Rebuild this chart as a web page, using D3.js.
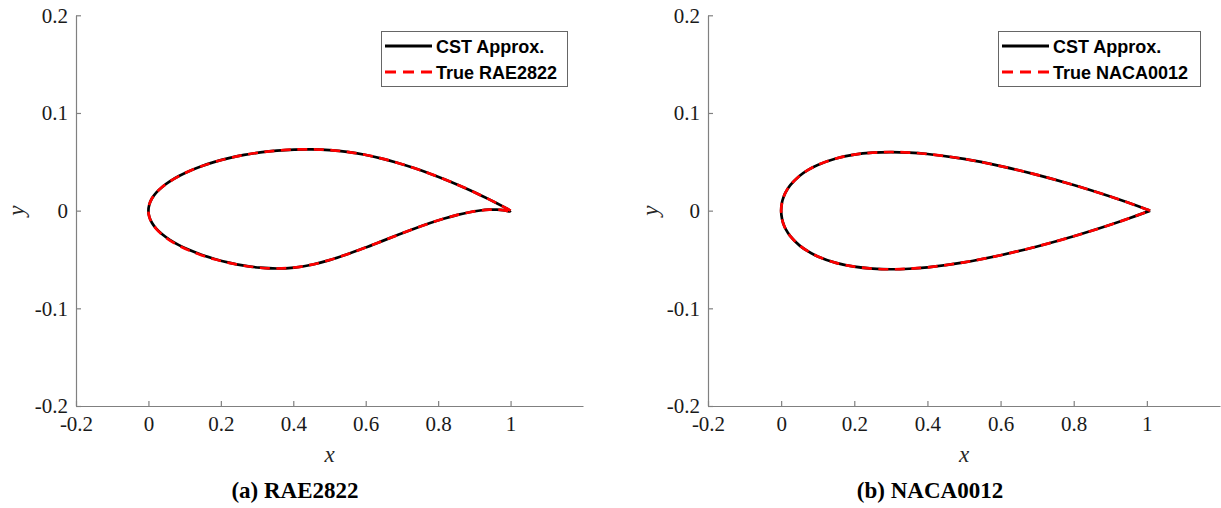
<!DOCTYPE html>
<html>
<head>
<meta charset="utf-8">
<script src="https://cdn.jsdelivr.net/npm/d3@7"></script>
<style>
  html, body { margin: 0; padding: 0; background: #fff; }
  svg { display: block; }
  .tick text { font-family: "Liberation Serif", "Times New Roman", serif; }
</style>
</head>
<body>
<svg id="chart" width="1221" height="508"></svg>
<script>
// airfoil coordinates, chord-normalised
const raeX = [0, 0.002408, 0.009607, 0.021530, 0.038060, 0.059039, 0.084265, 0.113495, 0.146447, 0.182803,
  0.222215, 0.264302, 0.308658, 0.354858, 0.402455, 0.450991, 0.5, 0.549009, 0.597545, 0.645142,
  0.691342, 0.735698, 0.777785, 0.817197, 0.853553, 0.886505, 0.915735, 0.940961, 0.961940, 0.978470,
  0.990393, 0.997592, 1.0];
const raeUpperTrue = [0, 0.006306, 0.012480, 0.018441, 0.024219, 0.029874, 0.035360, 0.040585, 0.045457, 0.049874,
  0.053753, 0.057025, 0.059629, 0.061497, 0.062562, 0.062774, 0.062029, 0.060194, 0.057218, 0.053258,
  0.048575, 0.043377, 0.037847, 0.032176, 0.026554, 0.021153, 0.016113, 0.011562, 0.007622, 0.004401,
  0.002001, 0.000510, 0];
const raeLowerTrue = [0, -0.006308, -0.012559, -0.018707, -0.024685, -0.030416, -0.035843, -0.040929, -0.045610, -0.049805,
  -0.053427, -0.056376, -0.058459, -0.059236, -0.058224, -0.055257, -0.050563, -0.044642, -0.038043, -0.031207,
  -0.024495, -0.018232, -0.012690, -0.008027, -0.004314, -0.001592, 0.000149, 0.000970, 0.001035, 0.000554,
  -0.000187, -0.000792, 0];
const raeUpperCst = [0, 0.006250, 0.012430, 0.018420, 0.024230, 0.029910, 0.035410, 0.040640, 0.045500, 0.049900,
  0.053770, 0.057030, 0.059620, 0.061480, 0.062550, 0.062770, 0.062040, 0.060220, 0.057250, 0.053280,
  0.048590, 0.043380, 0.037830, 0.032150, 0.026520, 0.021120, 0.016090, 0.011550, 0.007620, 0.004410,
  0.002020, 0.000530, 0];
const raeLowerCst = [0, -0.006250, -0.012400, -0.018400, -0.024250, -0.029900, -0.035300, -0.040400, -0.045150, -0.049450,
  -0.053200, -0.056250, -0.058400, -0.059250, -0.058300, -0.055350, -0.050650, -0.044700, -0.038070, -0.031200,
  -0.024470, -0.018200, -0.012670, -0.008020, -0.004320, -0.001610, 0.000130, 0.000960, 0.001030, 0.000560,
  -0.000170, -0.000770, 0];

const nacaX = [0, 0.0025, 0.005, 0.0075, 0.0125, 0.025, 0.05, 0.075, 0.1, 0.15, 0.2, 0.25, 0.3, 0.35,
  0.4, 0.5, 0.6, 0.7, 0.8, 0.9, 0.95, 1.0, 1.00893];
const nacaUpperTrue = [0, 0.00872, 0.01221, 0.01485, 0.01894, 0.02615, 0.03555, 0.04200, 0.04683, 0.05345, 0.05737, 0.05941, 0.06002, 0.05949,
  0.05803, 0.05294, 0.04563, 0.03664, 0.02623, 0.01448, 0.00807, 0.00126, 0];
const nacaUpperCst = [0, 0.00860, 0.01212, 0.01478, 0.01890, 0.02614, 0.03556, 0.04201, 0.04684, 0.05345, 0.05737, 0.05940, 0.06001, 0.05948,
  0.05802, 0.05294, 0.04564, 0.03665, 0.02624, 0.01449, 0.00808, 0.00127, 0];

const xTicks = [-0.2, 0, 0.2, 0.4, 0.6, 0.8, 1];
const yTicks = [-0.2, -0.1, 0, 0.1, 0.2];
const legendLabels = [["CST Approx.", "True RAE2822"], ["CST Approx.", "True NACA0012"]];
const captions = ["(a) RAE2822", "(b) NACA0012"];

function loop(xs, up, lo) {
  // trailing edge -> leading edge along upper, then back along lower
  const pts = [];
  for (let i = xs.length - 1; i >= 0; i--) pts.push([xs[i], up[i]]);
  for (let i = 1; i < xs.length; i++) pts.push([xs[i], lo[i]]);
  return pts;
}

const panels = [
  {
    left: 76, right: 583, yLabelX: 18, capX: 295,
    cst: loop(raeX, raeUpperCst, raeLowerCst),
    truth: loop(raeX, raeUpperTrue, raeLowerTrue),
    legend: legendLabels[0], legendBox: [381, 567], caption: captions[0]
  },
  {
    left: 708, right: 1220, yLabelX: 652, capX: 930,
    cst: loop(nacaX, nacaUpperCst, nacaUpperCst.map(v => -v)),
    truth: loop(nacaX, nacaUpperTrue, nacaUpperTrue.map(v => -v)),
    legend: legendLabels[1], legendBox: [998, 1200], caption: captions[1]
  }
];

const svg = d3.select("#chart");
const plotTop = 15.3, plotBottom = 406;
const axisColor = "#808080", textColor = "#262626";
const serif = "'Liberation Serif', 'Times New Roman', serif";

panels.forEach(p => {
  const x = d3.scaleLinear().domain([-0.2, 1.2]).range([p.left, p.right]);
  const y = d3.scaleLinear().domain([-0.2, 0.2]).range([plotBottom, plotTop]);
  const g = svg.append("g");

  const fmt = d => d === 0 ? "0" : String(d);

  const xa = g.append("g").attr("transform", `translate(0,${plotBottom})`)
    .call(d3.axisBottom(x).tickValues(xTicks).tickFormat(fmt).tickSizeInner(-5).tickSizeOuter(0).tickPadding(10));
  const ya = g.append("g").attr("transform", `translate(${p.left},0)`)
    .call(d3.axisLeft(y).tickValues(yTicks).tickFormat(fmt).tickSizeInner(-5).tickSizeOuter(0).tickPadding(8));
  [xa, ya].forEach(a => {
    a.attr("font-family", serif).attr("font-size", 21);
    a.selectAll("path, line").attr("stroke", axisColor).attr("stroke-width", 1.2);
    a.selectAll("text").attr("fill", "#1a1a1a");
  });

  const line = d3.line().x(d => x(d[0])).y(d => y(d[1])).curve(d3.curveCatmullRom.alpha(0.5));
  g.append("path").attr("d", line(p.cst)).attr("fill", "none")
    .attr("stroke", "#000").attr("stroke-width", 2.7).attr("stroke-linejoin", "round");
  g.append("path").attr("d", line(p.truth)).attr("fill", "none")
    .attr("stroke", "#ff0000").attr("stroke-width", 2.7).attr("stroke-dasharray", "10,6.5");

  // axis labels
  g.append("text").attr("x", (p.left + p.right) / 2).attr("y", 462)
    .attr("text-anchor", "middle").attr("fill", textColor)
    .style("font-family", serif).style("font-style", "italic").style("font-size", "23px").text("x");
  g.append("text").attr("transform", `translate(${p.yLabelX + 6},${(plotTop + plotBottom) / 2}) rotate(-90)`)
    .attr("text-anchor", "middle").attr("fill", textColor)
    .style("font-family", serif).style("font-style", "italic").style("font-size", "23px").text("y");

  // legend
  const [lx0, lx1] = p.legendBox;
  const lg = g.append("g");
  lg.append("rect").attr("x", lx0 + 0.5).attr("y", 31.5).attr("width", lx1 - lx0).attr("height", 55)
    .attr("fill", "#fff").attr("stroke", "#666").attr("stroke-width", 1);
  const rows = [{ color: "#000", dash: null, cy: 46 }, { color: "#ff0000", dash: "11,7", cy: 72 }];
  rows.forEach((r, i) => {
    lg.append("line").attr("x1", lx0 + 4).attr("x2", lx0 + 51).attr("y1", r.cy).attr("y2", r.cy)
      .attr("stroke", r.color).attr("stroke-width", 3).attr("stroke-dasharray", r.dash);
    lg.append("text").attr("x", lx0 + 55).attr("y", r.cy + 7)
      .attr("fill", "#000").style("font-family", "'Liberation Sans', Arial, sans-serif")
      .style("font-weight", "bold").style("font-size", "18px").text(p.legend[i]);
  });

  g.append("text").attr("x", p.capX).attr("y", 498).attr("text-anchor", "middle")
    .attr("fill", "#000").style("font-family", serif).style("font-weight", "bold")
    .style("font-size", "23px").text(p.caption);
});
</script>
</body>
</html>
